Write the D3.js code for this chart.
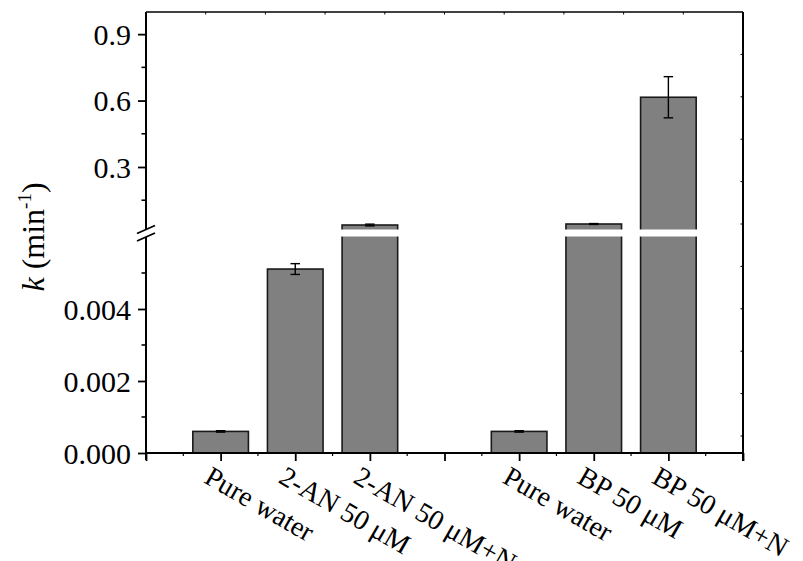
<!DOCTYPE html>
<html>
<head>
<meta charset="utf-8">
<script src="https://cdn.jsdelivr.net/npm/d3@7"></script>
<style>
  html, body { margin: 0; padding: 0; background: #fff; }
  svg { display: block; }
  text { font-family: "Liberation Serif", "Times New Roman", serif; fill: #000; }
</style>
</head>
<body>
<svg id="chart" width="803" height="561"></svg>
<script>
// Rate constants k (min^-1); an empty slot separates the two groups.
const categories = ["Pure water", "2-AN 50 μM", "2-AN 50 μM+N", "", "Pure water", "BP 50 μM", "BP 50 μM+N"];
const kValues    = [0.0006, 0.00511, 0.038, null, 0.0006, 0.0426, 0.615];
const kErrors    = [0.00002, 0.00015, 0.004, null, 0.00002, 0.002, 0.093];

// Broken y axis: a lower and an upper segment.
const lowerTicks = [0, 0.002, 0.004];
const lowerMinor = [0.001, 0.003, 0.005];
const upperTicks = [0.3, 0.6, 0.9];
const upperMinor = [0.15, 0.45, 0.75];
const lowerDomain = [0, 0.006];
const upperDomain = [0.02, 1.0];

const svg = d3.select("#chart");

const plotLeft = 146, plotRight = 743, plotTop = 12, plotBottom = 453;
const lowerTop = 237, upperBottom = 229;

const x = d3.scaleLinear().domain([0, categories.length + 1]).range([plotLeft, plotRight]);
const yLow = d3.scaleLinear().domain(lowerDomain).range([plotBottom, lowerTop]);
const yUp = d3.scaleLinear().domain(upperDomain).range([upperBottom, plotTop]);
const yAny = v => (v <= lowerDomain[1] ? yLow(v) : yUp(v));

const slotW = x(1) - x(0);
const barW = slotW * 0.745;

const rows = categories.map((c, i) => ({ c, v: kValues[i], e: kErrors[i], pos: i + 1 }))
  .filter(d => d.v !== null);

// Bars
const g = svg.append("g");
g.selectAll("rect.bar").data(rows).join("rect")
  .attr("class", "bar")
  .attr("x", d => x(d.pos) - barW / 2)
  .attr("width", barW)
  .attr("y", d => yAny(d.v))
  .attr("height", d => plotBottom - yAny(d.v))
  .attr("fill", "#808080")
  .attr("stroke", "#1a1a1a")
  .attr("stroke-width", 1.6);

// White band where the axis is broken
g.selectAll("rect.gap").data(rows.filter(d => d.v > lowerDomain[1])).join("rect")
  .attr("class", "gap")
  .attr("x", d => x(d.pos) - barW / 2 - 1.5)
  .attr("width", barW + 3)
  .attr("y", upperBottom + 0.5)
  .attr("height", lowerTop - upperBottom - 1)
  .attr("fill", "#fff");

// Error bars
const capW = 9.5;
const eg = svg.append("g").attr("stroke", "#000").attr("stroke-width", 1.4);
rows.forEach(d => {
  const y1 = yAny(d.v + d.e), y2 = yAny(d.v - d.e), cx = x(d.pos);
  eg.append("line").attr("x1", cx).attr("x2", cx).attr("y1", y1).attr("y2", y2);
  eg.append("line").attr("x1", cx - capW / 2).attr("x2", cx + capW / 2).attr("y1", y1).attr("y2", y1);
  eg.append("line").attr("x1", cx - capW / 2).attr("x2", cx + capW / 2).attr("y1", y2).attr("y2", y2);
});

// Frame lines
const frame = svg.append("g").attr("stroke", "#000").attr("fill", "none");
frame.append("line").attr("x1", plotLeft).attr("x2", plotRight).attr("y1", plotTop).attr("y2", plotTop).attr("stroke-width", 1.6);
frame.append("line").attr("x1", plotRight).attr("x2", plotRight).attr("y1", plotTop).attr("y2", plotBottom + 8).attr("stroke-width", 2);
frame.append("line").attr("x1", plotLeft).attr("x2", plotRight).attr("y1", plotBottom).attr("y2", plotBottom).attr("stroke-width", 1.8);
// Left axis, split at the break
frame.append("line").attr("x1", plotLeft).attr("x2", plotLeft).attr("y1", plotTop).attr("y2", 230).attr("stroke-width", 2);
frame.append("line").attr("x1", plotLeft).attr("x2", plotLeft).attr("y1", 237).attr("y2", plotBottom + 7).attr("stroke-width", 2);

// Break marks
[229.5, 237].forEach(yc => {
  frame.append("line")
    .attr("x1", plotLeft - 9).attr("y1", yc + 4)
    .attr("x2", plotLeft + 9).attr("y2", yc - 4)
    .attr("stroke-width", 1.8);
});

// Small ticks on top and right frame
const topTicks = d3.range(1, 10).map(i => plotLeft + (plotRight - plotLeft) * i / 10);
frame.selectAll("line.tt").data(topTicks).join("line")
  .attr("class", "tt").attr("x1", d => d).attr("x2", d => d)
  .attr("y1", plotTop).attr("y2", plotTop + 2.5).attr("stroke-width", 1);
const rightTicks = d3.range(1, 11).map(i => plotTop + 42.4 * i);
frame.selectAll("line.rt").data(rightTicks).join("line")
  .attr("class", "rt").attr("x1", plotRight - 2.5).attr("x2", plotRight)
  .attr("y1", d => d).attr("y2", d => d).attr("stroke-width", 1);

// Y axes
const fontY = 30;
function yAxis(scale, ticks, minor, fmt) {
  const ag = svg.append("g").attr("transform", `translate(${plotLeft},0)`);
  ag.call(d3.axisLeft(scale).tickValues(ticks).tickSize(8).tickPadding(7).tickFormat(d3.format(fmt)));
  ag.select(".domain").remove();
  ag.selectAll(".tick line").attr("stroke", "#000").attr("stroke-width", 1.8);
  ag.selectAll(".tick text").attr("font-size", fontY).attr("font-family", "Liberation Serif")
    .attr("fill", "#000").attr("dy", "0.34em");
  ag.selectAll("line.minor").data(minor).join("line")
    .attr("class", "minor").attr("x1", -4.5).attr("x2", 0)
    .attr("y1", d => scale(d)).attr("y2", d => scale(d))
    .attr("stroke", "#000").attr("stroke-width", 1.6);
}
yAxis(yLow, lowerTicks, lowerMinor, ".3f");
yAxis(yUp, upperTicks, upperMinor, ".1f");

// X axis ticks
const xg = svg.append("g").attr("transform", `translate(0,${plotBottom})`);
xg.call(d3.axisBottom(x).tickValues(d3.range(0, categories.length + 2)).tickSize(8).tickFormat(""));
xg.select(".domain").remove();
xg.selectAll(".tick line").attr("stroke", "#000").attr("stroke-width", 1.8);
xg.selectAll("line.minor").data(d3.range(0.5, categories.length + 1, 1)).join("line")
  .attr("class", "minor").attr("x1", d => x(d)).attr("x2", d => x(d))
  .attr("y1", 0).attr("y2", 3).attr("stroke", "#000").attr("stroke-width", 1.2);

// Rotated category labels
svg.append("g").selectAll("text").data(rows).join("text")
  .attr("transform", d => `translate(${x(d.pos) - 18},${plotBottom + 29}) rotate(30)`)
  .attr("font-size", 28)
  .text(d => d.c);

// Y axis title
const title = svg.append("text")
  .attr("transform", "translate(44,237) rotate(-90)")
  .attr("text-anchor", "middle")
  .attr("font-size", 32);
title.append("tspan").attr("font-style", "italic").text("k");
title.append("tspan").text(" (min");
title.append("tspan").attr("font-size", 19).attr("dy", -13).text("-1");
title.append("tspan").attr("dy", 13).text(")");
</script>
</body>
</html>
